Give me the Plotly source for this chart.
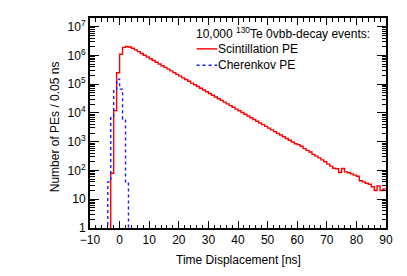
import plotly.graph_objects as go

# ---- data ----
# lower edges of 1-ns bins (ns)
scint_bin_start = list(range(-3, 90))
scint_counts = [
    80, 1.2e4, 2.5e5, 1.1e6, 1.9e6, 2.04e6, 1.95e6, 1.78e6, 1.55e6, 1.35e6,
    1.16e6, 1.01e6, 8.77e5, 7.64e5, 6.65e5, 5.79e5, 5.04e5, 4.39e5, 3.82e5, 3.32e5,
    2.89e5, 2.52e5, 2.19e5, 1.91e5, 1.66e5, 1.45e5, 1.26e5, 1.09e5, 9.53e4, 8.29e4,
    7.21e4, 6.28e4, 5.47e4, 4.75e4, 4.14e4, 3.60e4, 3.13e4, 2.73e4, 2.38e4, 2.07e4,
    1.80e4, 1.57e4, 1.36e4, 1.19e4, 1.03e4, 9.0e3, 7.83e3, 6.81e3, 5.93e3, 5.16e3,
    4.49e3, 3.91e3, 3.40e3, 2.96e3, 2.58e3, 2.24e3, 1.95e3, 1.70e3, 1.48e3, 1.29e3,
    1.12e3, 975, 849, 794, 692, 575, 501, 437, 363, 316,
    275, 234, 200, 166, 141, 120, 115, 85, 117, 89,
    83, 76, 69, 63, 44, 40, 36, 33, 27, 20,
    29, 20, 23,
]
cher_bin_start = list(range(-4, 3))
cher_counts = [40, 6.8e3, 6.3e4, 1.5e5, 6.7e4, 6.0e3, 36]

x_ticks = [-10, 0, 10, 20, 30, 40, 50, 60, 70, 80, 90]
y_tickvals = [1, 10, 1e2, 1e3, 1e4, 1e5, 1e6, 1e7]
y_ticktext = ["1", "10", "10<sup>2</sup>", "10<sup>3</sup>", "10<sup>4</sup>",
              "10<sup>5</sup>", "10<sup>6</sup>", "10<sup>7</sup>"]

FLOOR = 0.3  # below the axis minimum, so vertical edges run to the frame


def step_xy(starts, counts, close_right=True):
    xs = [starts[0]] + list(starts) + [starts[-1] + 1]
    ys = [FLOOR] + list(counts) + [counts[-1]]
    if close_right:
        xs.append(starts[-1] + 1)
        ys.append(FLOOR)
    return xs, ys


sx, sy = step_xy(scint_bin_start, scint_counts, close_right=False)
cx, cy = step_xy(cher_bin_start, cher_counts)

FONT = "Liberation Sans, Arial, Helvetica, sans-serif"
FS = 12

fig = go.Figure()
fig.add_trace(go.Scatter(x=sx, y=sy, mode="lines", line_shape="hv",
                         line=dict(color="#ff0000", width=1.4),
                         name="Scintillation PE", showlegend=False))
fig.add_trace(go.Scatter(x=cx, y=cy, mode="lines", line_shape="hv",
                         line=dict(color="#1a1aff", width=1.4, dash="dot"),
                         name="Cherenkov PE", showlegend=False))

# page body has an 8px margin, so the figure is offset by 8px in the window
fig.update_layout(
    width=407, height=276,
    margin=dict(l=81.5, r=29, t=9.7, b=56, autoexpand=False),
    paper_bgcolor="white", plot_bgcolor="white",
    font=dict(family=FONT, size=FS, color="black"),
    showlegend=False,
)

fig.update_xaxes(
    range=[-10, 90], tickvals=x_ticks,
    ticks="inside", ticklen=7, tickwidth=1.3, tickcolor="black",
    showline=True, linecolor="black", linewidth=2, mirror="allticks",
    showgrid=False, zeroline=False,
    minor=dict(dtick=2, tick0=0, ticks="inside", ticklen=3.5, tickwidth=1.3,
               tickcolor="black", showgrid=False),
    tickfont=dict(size=FS),
)
fig.update_yaxes(
    type="log", range=[0, 7.3],
    tickvals=y_tickvals, ticktext=y_ticktext,
    ticks="inside", ticklen=9, tickwidth=1.3, tickcolor="black",
    showline=True, linecolor="black", linewidth=2, mirror="allticks",
    showgrid=False, zeroline=False,
    minor=dict(dtick="D1", ticks="inside", ticklen=4.5, tickwidth=1.1,
               tickcolor="black", showgrid=False),
    tickfont=dict(size=FS),
)

# axis titles
fig.add_annotation(text="Time Displacement [ns]", xref="paper", yref="paper",
                   x=0.5, y=-0.152, yanchor="middle", xanchor="center",
                   showarrow=False, font=dict(size=FS))
fig.add_annotation(text="Number of PEs / 0.05 ns", xref="paper", yref="paper",
                   x=-0.118, y=0.48, textangle=-90, xanchor="center",
                   yanchor="middle", showarrow=False, font=dict(size=FS))

# legend (drawn manually)
fig.add_annotation(text="10,000 <sup>130</sup>Te 0vbb-decay events:",
                   xref="paper", yref="paper", x=0.352, y=0.93,
                   xanchor="left", yanchor="middle", showarrow=False,
                   font=dict(size=FS))
fig.add_annotation(text="Scintillation PE", xref="paper", yref="paper",
                   x=0.425, y=0.853, xanchor="left", yanchor="middle",
                   showarrow=False, font=dict(size=FS))
fig.add_annotation(text="Cherenkov PE", xref="paper", yref="paper",
                   x=0.425, y=0.775, xanchor="left", yanchor="middle",
                   showarrow=False, font=dict(size=FS))
fig.add_shape(type="line", xref="paper", yref="paper",
              x0=0.36, x1=0.43, y0=0.853, y1=0.853,
              line=dict(color="#ff0000", width=1.4))
fig.add_shape(type="line", xref="paper", yref="paper",
              x0=0.36, x1=0.43, y0=0.775, y1=0.775,
              line=dict(color="#1a1aff", width=1.4, dash="dot"))

fig.write_html("out.html")
